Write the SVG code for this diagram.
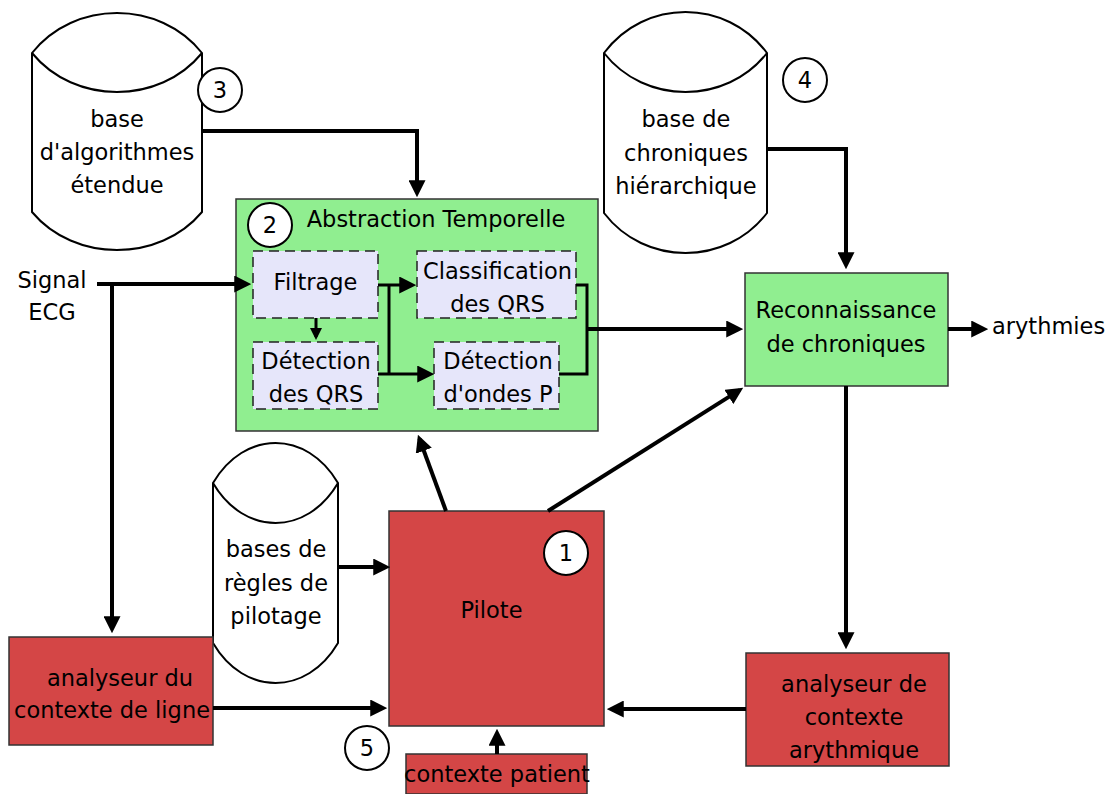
<svg xmlns="http://www.w3.org/2000/svg" width="1119" height="794" viewBox="0 0 1119 794">
<style>
text{font-family:"DejaVu Sans","Liberation Sans",sans-serif;font-size:22.5px;fill:#000;text-anchor:middle}
.cyl{fill:#fff;stroke:#000;stroke-width:2}
.green{fill:#90EE90;stroke:#333;stroke-width:1.5}
.red{fill:#D44646;stroke:#333;stroke-width:1.5}
.sub{fill:#E6E6FA;stroke:#222;stroke-width:1.5;stroke-dasharray:10,6}
.num{fill:#fff;stroke:#000;stroke-width:2}
.c{fill:none;stroke:#000;stroke-width:4}
.ci{fill:none;stroke:#000;stroke-width:3}
</style>
<defs>
<marker id="ah" viewBox="0 0 16 16" markerWidth="17" markerHeight="17" refX="12" refY="8" orient="auto" markerUnits="userSpaceOnUse"><path d="M0,0 L16,8 L0,16 z" fill="#000"/></marker>
<marker id="ahs" viewBox="0 0 12 12" markerWidth="12" markerHeight="12" refX="9" refY="6" orient="auto" markerUnits="userSpaceOnUse"><path d="M0,0 L12,6 L0,12 z" fill="#000"/></marker>
</defs>
<g id="cyl-algos">
<path class="cyl" d="M32,53 C74.5,-0.3 159.5,-0.3 202,53 V212 C159.5,262.7 74.5,262.7 32,212 Z"/>
<path class="cyl" fill="none" d="M32,53 C74.5,105 159.5,105 202,53"/>
<text x="117" y="127">base</text><text x="117" y="160">d'algorithmes</text><text x="117" y="193">étendue</text>
</g>
<g id="cyl-chroniques">
<path class="cyl" d="M604,53 C644.75,-1.7 726.25,-1.7 767,53 V213 C726.25,266.3 644.75,266.3 604,213 Z"/>
<path class="cyl" fill="none" d="M604,53 C644.75,105 726.25,105 767,53"/>
<text x="686" y="127">base de</text><text x="686" y="161">chroniques</text><text x="686" y="194">hiérarchique</text>
</g>
<g id="cyl-regles">
<path class="cyl" d="M213,483 C244.25,429.7 306.75,429.7 338,483 V643 C306.75,696.3 244.25,696.3 213,643 Z"/>
<path class="cyl" fill="none" d="M213,483 C244.25,536.3 306.75,536.3 338,483"/>
<text x="276" y="557">bases de</text><text x="276" y="591">règles de</text><text x="276" y="624">pilotage</text>
</g>
<g id="abstraction">
<rect class="green" x="236" y="199" width="362" height="232"/>
<text x="436" y="227">Abstraction Temporelle</text>
</g>
<g id="filtrage"><rect class="sub" x="253" y="251" width="125" height="67"/><text x="315.5" y="290">Filtrage</text></g>
<g id="detection-qrs"><rect class="sub" x="253" y="342" width="125" height="67"/><text x="316" y="369">Détection</text><text x="316" y="402">des QRS</text></g>
<g id="classification"><rect class="sub" x="417" y="251" width="159" height="67"/><text x="497.5" y="279">Classification</text><text x="497.5" y="312">des QRS</text></g>
<g id="detection-p"><rect class="sub" x="434" y="342" width="125" height="67"/><text x="498" y="369">Détection</text><text x="498" y="402">d'ondes P</text></g>
<g id="reconnaissance"><rect class="green" x="745" y="273" width="203" height="113"/><text x="846" y="318">Reconnaissance</text><text x="846" y="352">de chroniques</text></g>
<g id="pilote"><rect class="red" x="389" y="511" width="215" height="215"/><text x="491.5" y="618">Pilote</text></g>
<g id="analyseur-ligne"><rect class="red" x="9" y="637" width="204" height="108"/><text x="120" y="686">analyseur du</text><text x="112" y="718">contexte de ligne</text></g>
<g id="analyseur-arythmique"><rect class="red" x="746" y="653" width="203" height="113"/><text x="854" y="692">analyseur de</text><text x="854" y="725">contexte</text><text x="854" y="758">arythmique</text></g>
<g id="contexte-patient"><rect class="red" x="406" y="754" width="181" height="40"/><text x="497" y="782">contexte patient</text></g>
<g id="signal"><text x="52" y="288">Signal</text><text x="52" y="320">ECG</text></g>
<g id="arythmies"><text x="992" y="334" style="text-anchor:start">arythmies</text></g>
<g id="markers-num">
<circle class="num" cx="220" cy="90" r="22"/><text x="220" y="98">3</text>
<circle class="num" cx="270" cy="225" r="22"/><text x="270" y="233">2</text>
<circle class="num" cx="805" cy="80" r="22"/><text x="805" y="88">4</text>
<circle class="num" cx="566" cy="553" r="22"/><text x="566" y="561">1</text>
<circle class="num" cx="367" cy="748" r="22"/><text x="367" y="756">5</text>
</g>
<g id="connectors">
<path class="c" d="M202,131 H417 V193" marker-end="url(#ah)"/>
<path class="c" d="M97,284 H247" marker-end="url(#ah)"/>
<path class="c" d="M112,284 V629" marker-end="url(#ah)"/>
<path class="ci" d="M316,318 V337" marker-end="url(#ahs)"/>
<path class="ci" d="M378,285 H412" marker-end="url(#ah)"/>
<path class="ci" d="M389,285 V374"/>
<path class="ci" d="M378,374 H430" marker-end="url(#ah)"/>
<path class="ci" d="M576,285 H587 V374 H559"/>
<path class="c" d="M587,329 H739" marker-end="url(#ah)"/>
<path class="c" d="M767,149 H846 V265" marker-end="url(#ah)"/>
<path class="c" d="M948,329 H984" marker-end="url(#ah)"/>
<path class="c" d="M846,386 V645" marker-end="url(#ah)"/>
<path class="c" d="M746,709 H611" marker-end="url(#ah)"/>
<path class="c" d="M338,567 H386" marker-end="url(#ah)"/>
<path class="c" d="M213,708 H383" marker-end="url(#ah)"/>
<path class="c" d="M497,754 V733" marker-end="url(#ah)"/>
<path class="c" d="M446,511 L419.4,438.8" marker-end="url(#ah)"/>
<path class="c" d="M548,511 L739.6,390.1" marker-end="url(#ah)"/>
</g>
</svg>
